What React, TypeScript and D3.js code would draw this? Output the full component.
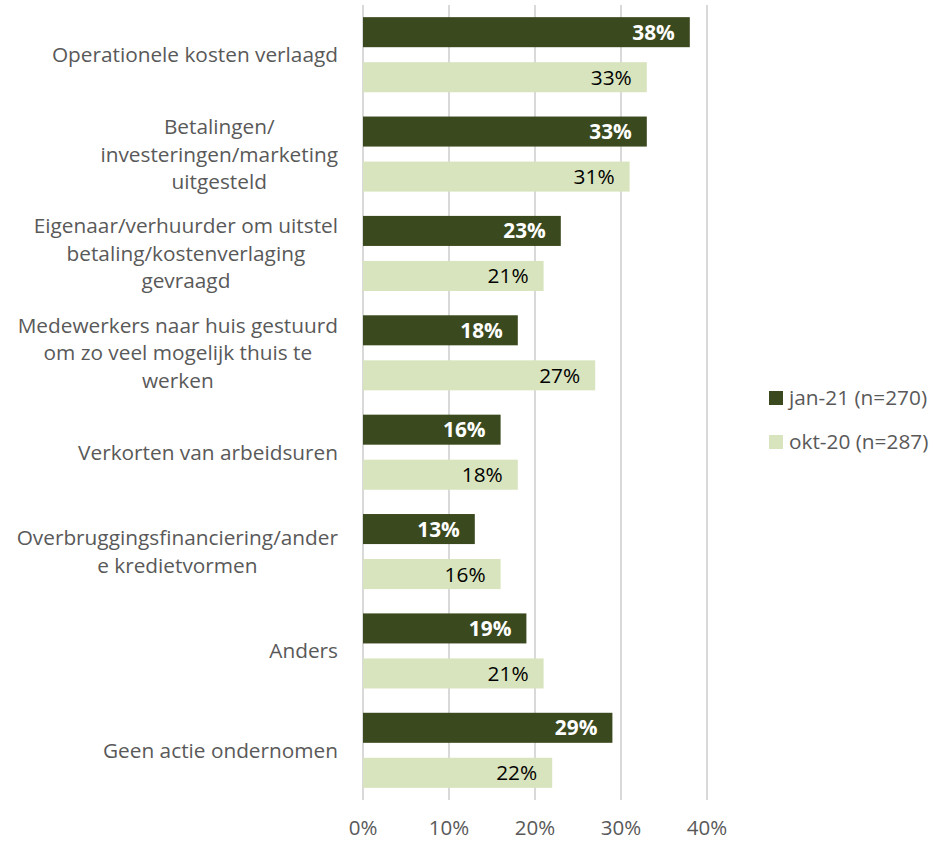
import React, { useEffect, useRef } from "react";
import * as d3 from "d3";

const categories = [
  ["Operationele kosten verlaagd"],
  ["Betalingen/", "investeringen/marketing", "uitgesteld"],
  ["Eigenaar/verhuurder om uitstel", "betaling/kostenverlaging", "gevraagd"],
  ["Medewerkers naar huis gestuurd", "om zo veel mogelijk thuis te", "werken"],
  ["Verkorten van arbeidsuren"],
  ["Overbruggingsfinanciering/ander", "e kredietvormen"],
  ["Anders"],
  ["Geen actie ondernomen"],
];
const seriesNames = ["jan-21 (n=270)", "okt-20 (n=287)"];
const jan21 = [38, 33, 23, 18, 16, 13, 19, 29];
const okt20 = [33, 31, 21, 27, 18, 16, 21, 22];
const ticks = [0, 10, 20, 30, 40];

const COLORS = ["#3b4a1e", "#d8e4bd"];
const FONT = "'Open Sans', Lato, sans-serif";
const FS = 20.8;

export default function App() {
  const ref = useRef<SVGSVGElement>(null);
  useEffect(() => {
    const svg = d3.select(ref.current);
    svg.selectAll("*").remove();
    const keys = categories.map((c) => c.join(" "));
    const x = d3.scaleLinear().domain([0, 40]).range([363, 707]);
    const y = d3.scaleBand<string>().domain(keys).range([5, 800]).padding(0);
    const sub = d3
      .scaleBand<string>()
      .domain(seriesNames)
      .range([0, y.bandwidth()])
      .paddingInner(0.333)
      .paddingOuter(0.27);

    svg
      .append("g")
      .selectAll("line")
      .data(ticks)
      .join("line")
      .attr("x1", (d) => x(d))
      .attr("x2", (d) => x(d))
      .attr("y1", 5)
      .attr("y2", 800)
      .attr("stroke", "#d9d9d9")
      .attr("stroke-width", 2);

    svg
      .append("g")
      .selectAll("text")
      .data(ticks)
      .join("text")
      .attr("x", (d) => x(d))
      .attr("y", 828)
      .attr("dy", "0.36em")
      .attr("text-anchor", "middle")
      .attr("font-family", FONT)
      .attr("font-size", 20.5)
      .attr("fill", "#595959")
      .text((d) => d + "%");

    const series = [jan21, okt20];
    series.forEach((vals, si) => {
      const g = svg.append("g");
      const name = seriesNames[si];
      g.selectAll("rect")
        .data(vals)
        .join("rect")
        .attr("x", x(0))
        .attr("y", (_, i) => (y(keys[i]) as number) + (sub(name) as number))
        .attr("width", (d) => x(d) - x(0))
        .attr("height", sub.bandwidth())
        .attr("fill", COLORS[si]);
      g.selectAll("text")
        .data(vals)
        .join("text")
        .attr("x", (d) => x(d) - 15)
        .attr("y", (_, i) => (y(keys[i]) as number) + (sub(name) as number) + sub.bandwidth() / 2)
        .attr("dy", "0.36em")
        .attr("text-anchor", "end")
        .attr("font-family", FONT)
        .attr("font-size", FS)
        .attr("font-weight", si === 0 ? "bold" : "normal")
        .attr("fill", si === 0 ? "#ffffff" : "#000000")
        .text((d) => d + "%");
    });

    const lineH = 27.5;
    categories.forEach((lines, i) => {
      const cy = (y(keys[i]) as number) + y.bandwidth() / 2;
      const g = svg.append("g");
      const texts = g
        .selectAll("text")
        .data(lines)
        .join("text")
        .attr("y", (_, j) => cy + (j - (lines.length - 1) / 2) * lineH)
        .attr("dy", "0.36em")
        .attr("text-anchor", "middle")
        .attr("font-family", FONT)
        .attr("font-size", FS)
        .attr("fill", "#595959")
        .text((d) => d);
      let maxW = 0;
      texts.each(function () {
        maxW = Math.max(maxW, (this as SVGTextElement).getComputedTextLength());
      });
      texts.attr("x", 338 - maxW / 2);
    });

    const lg = svg.append("g");
    seriesNames.forEach((n, i) => {
      const cy = 398 + i * 44;
      lg.append("rect")
        .attr("x", 769)
        .attr("y", cy - 7)
        .attr("width", 14)
        .attr("height", 14)
        .attr("fill", COLORS[i]);
      lg.append("text")
        .attr("x", 789)
        .attr("y", cy)
        .attr("dy", "0.36em")
        .attr("font-family", FONT)
        .attr("font-size", FS)
        .attr("fill", "#595959")
        .text(n);
    });
  }, []);
  return (
    <svg
      ref={ref}
      width={950}
      height={842}
      style={{ position: "absolute", left: 0, top: 0, background: "#fff" }}
    />
  );
}
